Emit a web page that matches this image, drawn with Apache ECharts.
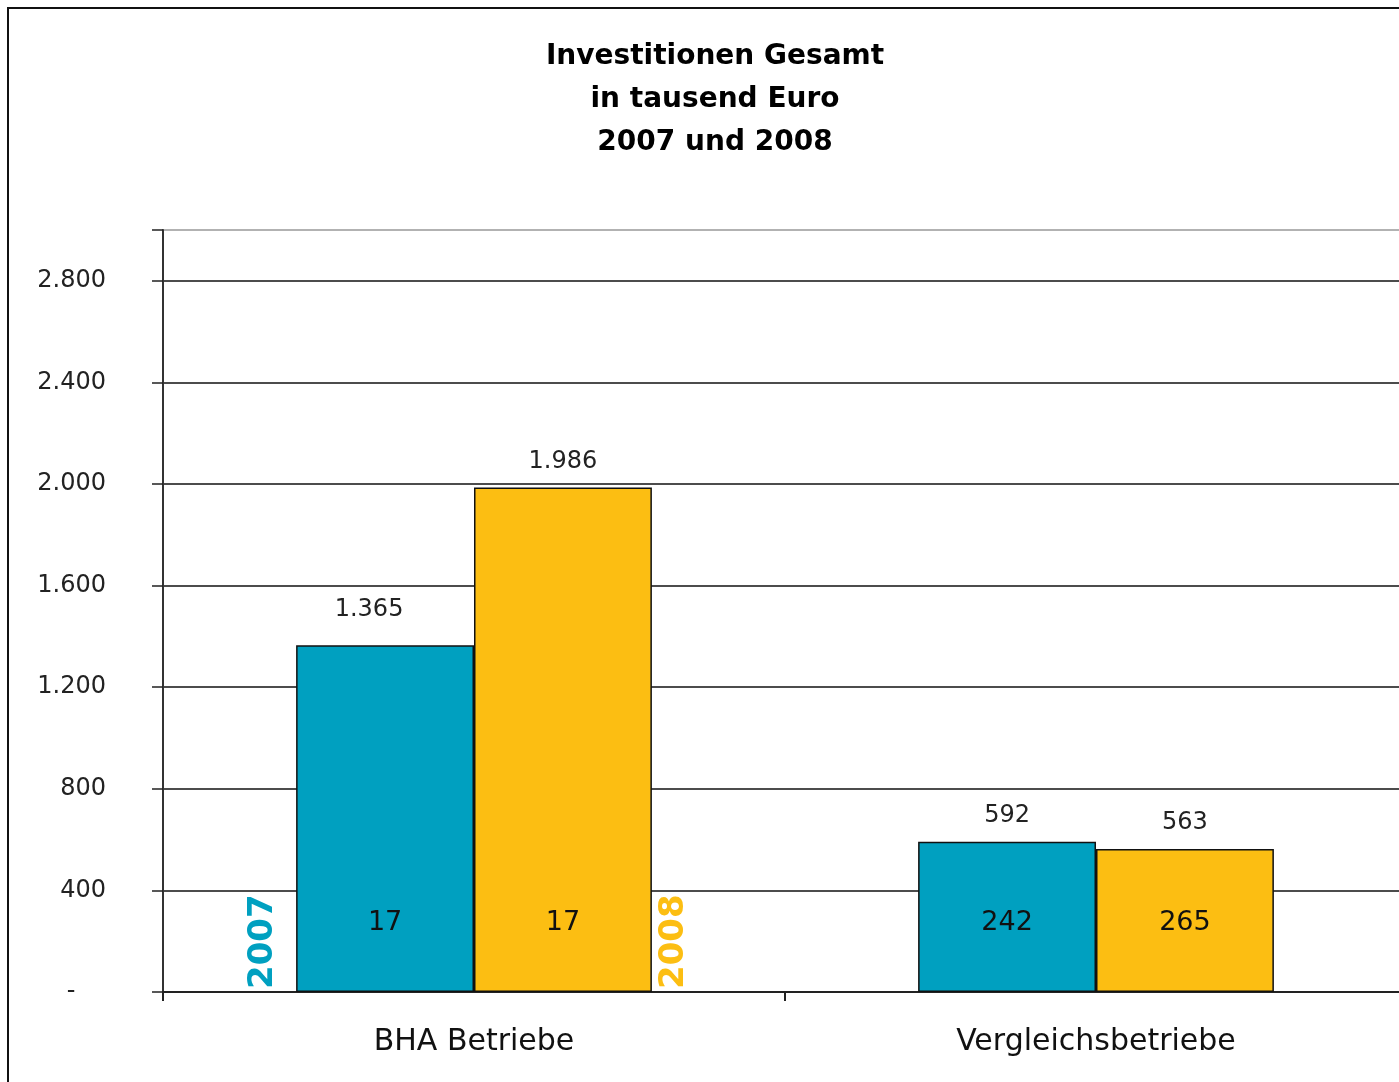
<!DOCTYPE html>
<html>
<head>
<meta charset="utf-8">
<script src="https://cdn.jsdelivr.net/npm/echarts@6/dist/echarts.min.js"></script>
<style>
  html, body { margin: 0; padding: 0; background: #fff; }
  #chart { width: 1399px; height: 1082px; }
</style>
</head>
<body>
<div id="chart"></div>
<script>
const titleLines = ['Investitionen Gesamt', 'in tausend Euro', '2007 und 2008'];
const categories = ['BHA Betriebe', 'Vergleichsbetriebe'];
const seriesNames = ['2007', '2008'];
const values2007 = [1365, 592];
const values2008 = [1986, 563];
const counts2007 = [17, 242];
const counts2008 = [17, 265];
const yTicks = [0, 400, 800, 1200, 1600, 2000, 2400, 2800];
const yMax = 3000;
const colors = ['#00A0C0', '#FCBE12'];

function fmt(v) {
  return String(v).replace(/\B(?=(\d{3})+(?!\d))/g, '.');
}

const font = 'DejaVu Sans';
const chart = echarts.init(document.getElementById('chart'), null, { renderer: 'canvas' });

const barCommon = {
  type: 'bar',
  barGap: '0%',
  barCategoryGap: '42.8%',
  itemStyle: { borderColor: '#111', borderWidth: 1.5 },
  animation: false
};

function valueData(vals, extraFirst) {
  return vals.map((v, i) => {
    const d = { value: v };
    if (i === 0 && extraFirst) d.label = extraFirst;
    return d;
  });
}

const option = {
  animation: false,
  backgroundColor: '#fff',
  title: {
    text: titleLines.join('\n'),
    left: 710, textAlign: 'center', top: 30,
    textStyle: { fontFamily: font, fontWeight: 'bold', fontSize: 28, lineHeight: 43, color: '#000' }
  },
  grid: { left: 163, top: 230, width: 1244, bottom: 90, containLabel: false, outerBoundsMode: 'none' },
  xAxis: [{
    type: 'category', data: categories,
    axisLine: { lineStyle: { color: '#222', width: 2 } },
    axisTick: { show: true, length: 9, lineStyle: { color: '#222', width: 2 } },
    axisLabel: { margin: 35, fontFamily: font, fontSize: 30, color: '#111' }
  }, {
    type: 'category', data: categories, show: false
  }],
  yAxis: {
    type: 'value', min: 0, max: yMax, interval: 400,
    axisLine: { show: true, lineStyle: { color: '#333', width: 2 } },
    axisTick: { show: true, length: 11, lineStyle: { color: '#222', width: 1.5 } },
    axisLabel: {
      margin: 57, fontFamily: font, fontSize: 24, color: '#222',
      formatter: v => (yTicks.indexOf(v) < 0 ? '' : (v === 0 ? '-    ' : fmt(v)))
    },
    splitLine: { show: true, lineStyle: { width: 1.5, color: ['#111', '#111', '#111', '#111', '#111', '#111', '#111', '#111', '#999'] } }
  },
  series: [
    Object.assign({}, barCommon, {
      name: seriesNames[0], xAxisIndex: 0,
      itemStyle: Object.assign({}, barCommon.itemStyle, { color: colors[0] }),
      label: { show: true, position: 'top', distance: 14, fontFamily: font, fontSize: 24, color: '#222', formatter: p => fmt(p.value) },
      data: valueData(values2007, { distance: 24, offset: [-16, 0] })
    }),
    Object.assign({}, barCommon, {
      name: seriesNames[1], xAxisIndex: 0,
      itemStyle: Object.assign({}, barCommon.itemStyle, { color: colors[1] }),
      label: { show: true, position: 'top', distance: 14, fontFamily: font, fontSize: 24, color: '#222', formatter: p => fmt(p.value) },
      data: valueData(values2008, null)
    }),
    Object.assign({}, barCommon, {
      name: 'n2007', xAxisIndex: 1, silent: true, z: 5,
      itemStyle: { color: 'transparent', borderWidth: 0 },
      label: { show: true, position: 'insideBottom', distance: 56, fontFamily: font, fontSize: 27, color: '#111', formatter: p => String(counts2007[p.dataIndex]) },
      data: values2007.slice()
    }),
    Object.assign({}, barCommon, {
      name: 'n2008', xAxisIndex: 1, silent: true, z: 5,
      itemStyle: { color: 'transparent', borderWidth: 0 },
      label: { show: true, position: 'insideBottom', distance: 56, fontFamily: font, fontSize: 27, color: '#111', formatter: p => String(counts2008[p.dataIndex]) },
      data: values2008.slice()
    })
  ],
  graphic: [
    { type: 'rect', shape: { x: 8, y: 8, width: 1420, height: 1100 }, style: { fill: 'none', stroke: '#111', lineWidth: 2 }, z: 100, silent: true },
    { type: 'text', x: 263, y: 989, rotation: Math.PI / 2,
      style: { text: seriesNames[0], fill: colors[0], font: 'bold 34px "DejaVu Sans"', textAlign: 'left', textVerticalAlign: 'middle', verticalAlign: 'middle' } },
    { type: 'text', x: 674, y: 989, rotation: Math.PI / 2,
      style: { text: seriesNames[1], fill: colors[1], font: 'bold 34px "DejaVu Sans"', textAlign: 'left', textVerticalAlign: 'middle', verticalAlign: 'middle' } }
  ]
};
chart.setOption(option);
</script>
</body>
</html>
